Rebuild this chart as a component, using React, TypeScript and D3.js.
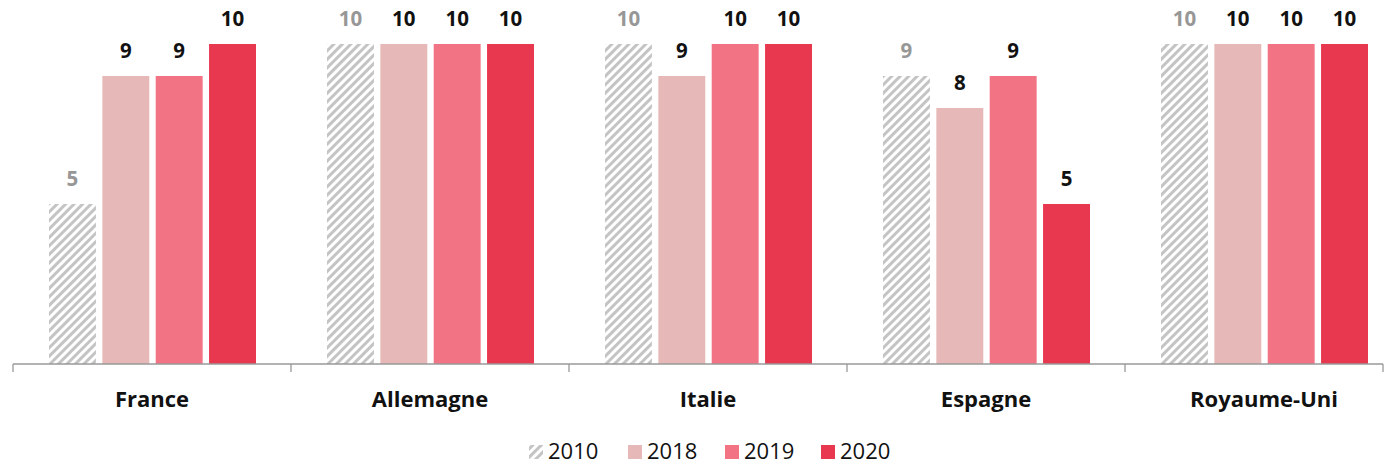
import React from 'react';
import * as d3 from 'd3';

const countries = ['France', 'Allemagne', 'Italie', 'Espagne', 'Royaume-Uni'];
const years = ['2010', '2018', '2019', '2020'];
const v2010 = [5, 10, 10, 9, 10];
const v2018 = [9, 10, 9, 8, 10];
const v2019 = [9, 10, 10, 9, 10];
const v2020 = [10, 10, 10, 5, 10];
const colors = ['url(#hatch)', '#e6b8b7', '#f27384', '#e8384f'];

const W = 1384;
const H = 466;
const FONT = "'Open Sans', 'Liberation Sans', sans-serif";

const App: React.FC = () => {
  const series = [v2010, v2018, v2019, v2020];
  const x0 = d3.scaleBand().domain(countries).range([13, 1403]).paddingInner(0).paddingOuter(0);
  const x1 = d3.scaleBand().domain(years).range([36, x0.bandwidth() - 35]).paddingInner(0.12);
  const y = d3.scaleLinear().domain([0, 10]).range([364, 44]);

  const ticks = countries.map(c => x0(c) as number).concat([1383]);

  return (
    <div style={{ position: 'absolute', left: 0, top: 0 }}>
      <svg width={W} height={H} style={{ display: 'block', fontFamily: FONT }}>
        <defs>
          <pattern id="hatch" patternUnits="userSpaceOnUse" width="6" height="6" patternTransform="rotate(45)">
            <rect width="6" height="6" fill="#fff" />
            <rect width="3" height="6" fill="#c4c4c4" />
          </pattern>
        </defs>
        {countries.map((c, ci) => (
          <g key={c} transform={`translate(${x0(c)},0)`}>
            {years.map((yr, si) => {
              const v = series[si][ci];
              const bx = x1(yr) as number;
              return (
                <g key={yr}>
                  <rect x={bx} y={y(v)} width={x1.bandwidth()} height={y(0) - y(v)} fill={colors[si]} />
                  <text x={bx + x1.bandwidth() / 2} y={y(v) - 18} textAnchor="middle"
                    fontSize={20.5} fontWeight="bold" fill={si === 0 ? '#979797' : '#111'}>{v}</text>
                </g>
              );
            })}
            <text x={x0.bandwidth() / 2} y={407} textAnchor="middle" fontSize={22} fontWeight="bold" fill="#111">{c}</text>
          </g>
        ))}
        <line x1={13} x2={1383} y1={364} y2={364} stroke="#999" strokeWidth={1.3} />
        {ticks.map((t, i) => (
          <line key={i} x1={t} x2={t} y1={364} y2={372} stroke="#999" strokeWidth={1.3} />
        ))}
        {years.map((yr, i) => {
          const lx = [529, 628, 725, 821][i];
          return (
            <g key={yr}>
              <rect x={lx} y={445} width={14} height={14} fill={colors[i]} />
              <text x={lx + 19} y={459} fontSize={22} fill="#111">{yr}</text>
            </g>
          );
        })}
      </svg>
    </div>
  );
};

export default App;
